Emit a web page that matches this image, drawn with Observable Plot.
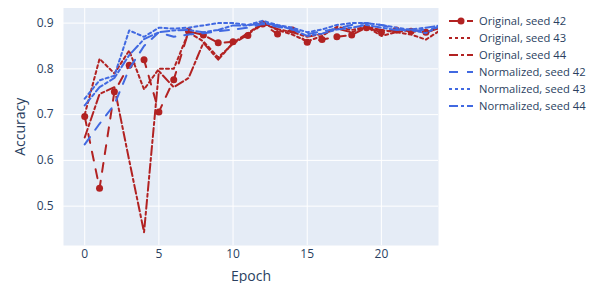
<!DOCTYPE html>
<html>
<head>
<meta charset="utf-8">
<script src="https://cdn.jsdelivr.net/npm/d3@7"></script>
<script src="https://cdn.jsdelivr.net/npm/@observablehq/plot@0.6"></script>
<style>
  html, body { margin: 0; padding: 0; background: #fff; }
  #wrap { position: relative; width: 592px; height: 283px; font-family: "Open Sans", verdana, arial, sans-serif; }
  #legend { position: absolute; left: 448px; top: 12px; font-size: 11.2px; color: #2a3f5f; white-space: nowrap; }
  .item { display: flex; align-items: center; height: 17px; white-space: nowrap; }
  .item svg { margin-right: 5px; flex: none; }
</style>
</head>
<body>
<div id="wrap"></div>
<script>
const epochs = d3.range(0, 25);
const orig42 = [0.696, 0.539, 0.750, 0.808, 0.820, 0.706, 0.776, 0.882, 0.874, 0.857, 0.859, 0.873, 0.898, 0.876, 0.885, 0.858, 0.864, 0.870, 0.874, 0.890, 0.880, 0.885, 0.882, 0.880, 0.890];
const orig43 = [0.700, 0.822, 0.790, 0.840, 0.755, 0.800, 0.800, 0.880, 0.860, 0.825, 0.855, 0.875, 0.900, 0.885, 0.875, 0.860, 0.872, 0.892, 0.885, 0.892, 0.872, 0.880, 0.875, 0.864, 0.885];
const orig44 = [0.650, 0.745, 0.760, 0.600, 0.443, 0.795, 0.760, 0.780, 0.857, 0.820, 0.857, 0.878, 0.900, 0.887, 0.880, 0.870, 0.876, 0.888, 0.880, 0.892, 0.885, 0.880, 0.886, 0.880, 0.890];
const norm42 = [0.635, 0.680, 0.722, 0.800, 0.850, 0.880, 0.870, 0.875, 0.878, 0.882, 0.886, 0.890, 0.898, 0.892, 0.886, 0.876, 0.882, 0.888, 0.896, 0.900, 0.896, 0.887, 0.882, 0.886, 0.892];
const norm43 = [0.735, 0.775, 0.785, 0.884, 0.870, 0.890, 0.888, 0.890, 0.895, 0.900, 0.900, 0.896, 0.905, 0.896, 0.890, 0.880, 0.886, 0.896, 0.900, 0.900, 0.896, 0.890, 0.885, 0.878, 0.895];
const norm44 = [0.720, 0.760, 0.780, 0.830, 0.865, 0.880, 0.884, 0.885, 0.880, 0.885, 0.895, 0.895, 0.900, 0.895, 0.886, 0.872, 0.877, 0.886, 0.890, 0.896, 0.890, 0.885, 0.886, 0.890, 0.895];
const seriesNames = ["Original, seed 42", "Original, seed 43", "Original, seed 44", "Normalized, seed 42", "Normalized, seed 43", "Normalized, seed 44"];
const xTicks = [0, 5, 10, 15, 20];
const yTicks = [0.5, 0.6, 0.7, 0.8, 0.9];

const RED = "#b22222", BLUE = "#4169e1";
const styles = [
  {color: RED, dash: "9,9", marker: true},
  {color: RED, dash: "3,3"},
  {color: RED, dash: "9,3,3,3"},
  {color: BLUE, dash: "9,9"},
  {color: BLUE, dash: "3,3"},
  {color: BLUE, dash: "9,3,3,3"}
];
const allSeries = [orig42, orig43, orig44, norm42, norm43, norm44];
const tables = allSeries.map(vals => epochs.map((e, i) => ({epoch: e, acc: vals[i]})));

const marks = [
  Plot.frame({fill: "#e5ecf6", stroke: null}),
  Plot.gridX(xTicks, {stroke: "#fff", strokeOpacity: 1, strokeWidth: 1}),
  Plot.gridY(yTicks, {stroke: "#fff", strokeOpacity: 1, strokeWidth: 1}),
  Plot.axisX(xTicks, {tickSize: 0, tickPadding: 4, fontSize: 12, fill: "#2a3f5f", label: "Epoch", labelAnchor: "center", labelOffset: 35, labelArrow: false}),
  Plot.axisY(yTicks, {tickSize: 0, tickPadding: 10, fontSize: 12, fill: "#2a3f5f", label: "Accuracy", labelAnchor: "center", labelOffset: 48, labelArrow: false, tickFormat: d => String(d)})
];
tables.forEach((t, k) => {
  const s = styles[k];
  marks.push(Plot.line(t, {x: "epoch", y: "acc", stroke: s.color, strokeWidth: 2, strokeDasharray: s.dash, clip: true}));
  if (s.marker) marks.push(Plot.dot(t, {x: "epoch", y: "acc", fill: s.color, r: 3.5, clip: true}));
});

const chart = Plot.plot({
  width: 592, height: 283,
  marginLeft: 63, marginRight: 154, marginTop: 7.5, marginBottom: 38,
  style: {fontFamily: '"Open Sans", verdana, arial, sans-serif', fontSize: "12px", color: "#2a3f5f", background: "transparent"},
  x: {domain: [-1.43, 23.85]},
  y: {domain: [0.414, 0.933]},
  marks
});
chart.querySelectorAll("[aria-label='x-axis label'] text, [aria-label='y-axis label'] text").forEach(t => t.setAttribute("font-size", "14"));
const wrap = document.getElementById("wrap");
wrap.appendChild(chart);

const legend = document.createElement("div");
legend.id = "legend";
seriesNames.forEach((name, k) => {
  const s = styles[k];
  const item = document.createElement("div");
  item.className = "item";
  const m = s.marker ? `<circle cx="13" cy="5" r="3.5" fill="${s.color}"/>` : "";
  item.innerHTML = `<svg width="26" height="10"><line x1="1" y1="5" x2="25" y2="5" stroke="${s.color}" stroke-width="2" stroke-dasharray="${s.dash}"/>${m}</svg><span>${name}</span>`;
  legend.appendChild(item);
});
wrap.appendChild(legend);
</script>
</body>
</html>
